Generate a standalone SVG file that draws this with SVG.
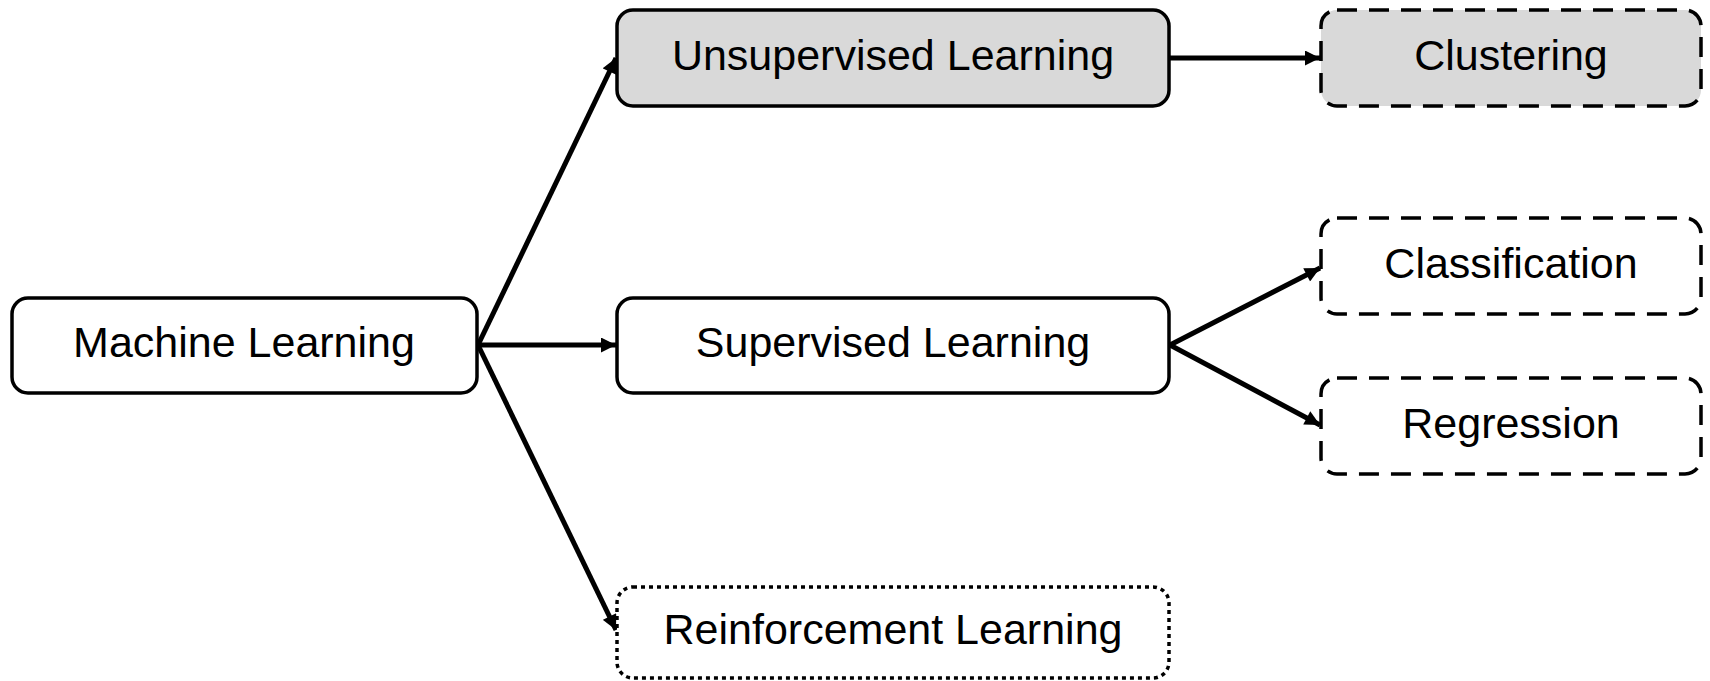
<svg xmlns="http://www.w3.org/2000/svg" width="1710" height="681" viewBox="0 0 1710 681">
<style>
.box{fill:#ffffff;stroke:#000;stroke-width:3.5}
.gray{fill:#d9d9d9}
.dash{stroke-dasharray:20 12}
.dot{stroke-dasharray:4 4}
.lbl{font-family:"Liberation Sans",Arial,sans-serif;font-size:43px;fill:#000;text-anchor:middle}
.conn{stroke:#000;stroke-width:5;fill:none;marker-end:url(#ah)}
</style>
<defs>
<marker id="ah" viewBox="0 0 10 10" refX="10" refY="5" markerWidth="3.4" markerHeight="3" orient="auto" markerUnits="strokeWidth">
<path d="M0,0 L10,5 L0,10 z" fill="#000"/>
</marker>
</defs>
<g id="connectors">
<line class="conn" x1="478" y1="345" x2="616" y2="58"/>
<line class="conn" x1="478" y1="345" x2="616" y2="345"/>
<line class="conn" x1="478" y1="345" x2="616" y2="630"/>
<line class="conn" x1="1170" y1="58" x2="1320" y2="58"/>
<line class="conn" x1="1170" y1="345" x2="1320" y2="268"/>
<line class="conn" x1="1170" y1="345" x2="1320" y2="425"/>
</g>
<g id="machine-learning">
<rect class="box" x="12" y="298" width="465" height="95" rx="16"/>
<text class="lbl" x="244" y="357">Machine Learning</text>
</g>
<g id="unsupervised-learning">
<rect class="box gray" x="617" y="10" width="552" height="96" rx="16"/>
<text class="lbl" x="893" y="70">Unsupervised Learning</text>
</g>
<g id="supervised-learning">
<rect class="box" x="617" y="298" width="552" height="95" rx="16"/>
<text class="lbl" x="893" y="357">Supervised Learning</text>
</g>
<g id="reinforcement-learning">
<rect class="box dot" x="617" y="587" width="552" height="91" rx="16"/>
<text class="lbl" x="893" y="644">Reinforcement Learning</text>
</g>
<g id="clustering">
<rect class="box gray dash" x="1321" y="10" width="380" height="96" rx="16"/>
<text class="lbl" x="1511" y="70">Clustering</text>
</g>
<g id="classification">
<rect class="box dash" x="1321" y="218" width="380" height="96" rx="16"/>
<text class="lbl" x="1511" y="278">Classification</text>
</g>
<g id="regression">
<rect class="box dash" x="1321" y="378" width="380" height="96" rx="16"/>
<text class="lbl" x="1511" y="438">Regression</text>
</g>
</svg>
